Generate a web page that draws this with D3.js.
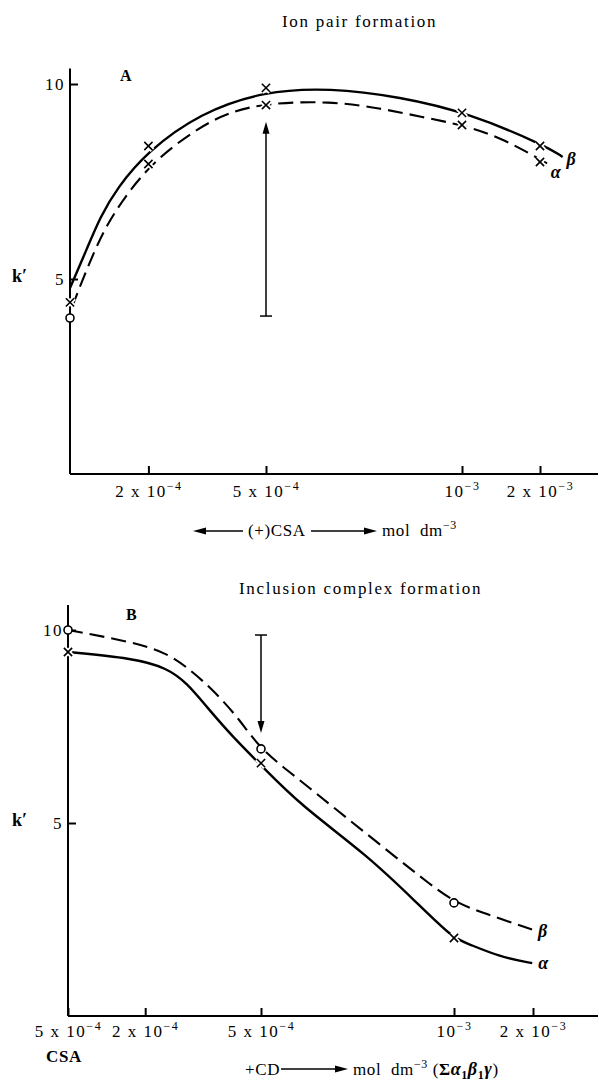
<!DOCTYPE html>
<meta charset="utf-8">
<title>k' against CSA and CD concentration</title>
<style>
  html, body { margin: 0; padding: 0; background: #fff; }
  svg { display: block; font-family: 'Liberation Serif', 'Times New Roman', serif; }
  text { fill: #000; }
  .axis { font-family: 'Liberation Serif', 'Times New Roman', serif; }
  .axis path.domain { display: none; }
  .axis line, .axis-line { stroke: #000; stroke-width: 2px; }
  .axis text { font-size: 17px; letter-spacing: 1.5px; }
  .curve { fill: none; stroke: #000; stroke-width: 2.4px; }
  .curve.dashed { stroke-width: 2.1px; stroke-dasharray: 15 7; }
  .mark { fill: none; stroke: #000; stroke-width: 1.6px; }
  .mark.o { fill: #fff; }
  .halo { fill: #fff; stroke: #fff; stroke-width: 5px; }
  .pointer { stroke: #000; stroke-width: 1.5px; }
  .title { font-size: 17px; letter-spacing: 1.7px; }
  .panel { font-size: 16px; font-weight: bold; }
  .kp { font-size: 18px; font-weight: bold; }
  .greek { font-size: 18px; font-weight: bold; font-style: italic; }
  .xlabel { font-size: 17px; letter-spacing: 0.6px; white-space: pre; }
</style>
<svg width="599" height="1081"></svg>
<script src="https://cdn.jsdelivr.net/npm/d3@7"></script>
<script>
  /* global d3 */
  'use strict'

  // ---- data (x in mol dm-3, y = k') ----
  // A: ion pair formation
  const ticksA = [2e-4, 5e-4, 1e-3, 2e-3]
  const tickLabelsA = [['2 x 10', '−4'], ['5 x 10', '−4'], ['10', '−3'], ['2 x 10', '−3']]
  const curveA_beta = [[0, 4.77], [0.43e-4, 5.77], [0.77e-4, 6.59], [1.2e-4, 7.33],
    [1.96e-4, 8.26], [3.32e-4, 9.26], [4.95e-4, 9.82], [6.63e-4, 9.9], [8.42e-4, 9.67],
    [1.08e-3, 9.26], [2.08e-3, 8.41], [2.29e-3, 8.13]]
  const curveA_alpha = [[0.05e-4, 4.28], [0.64e-4, 5.79], [1.1e-4, 6.69], [2.02e-4, 7.95],
    [3.32e-4, 8.92], [4.16e-4, 9.31], [5.05e-4, 9.51], [6.63e-4, 9.56], [7.91e-4, 9.38],
    [9.0e-4, 9.15], [1.0e-3, 8.95], [1.49e-3, 8.64], [2.06e-3, 8.0], [2.15e-3, 7.9]]
  const marksA_beta = [[0, 4.4, 'x'], [2e-4, 8.41, 'x'], [5e-4, 9.9, 'x'], [1e-3, 9.26, 'x'], [2e-3, 8.41, 'x']]
  const marksA_alpha = [[0, 4.0, 'o'], [2e-4, 7.95, 'x'], [5e-4, 9.46, 'x'], [1e-3, 8.95, 'x'], [2e-3, 8.0, 'x']]
  const pointerA = { x: 5e-4, from: 4.05, to: 9.03 }

  // B: inclusion complex formation
  const ticksB = [0, 2e-4, 5e-4, 1e-3, 2e-3]
  const tickLabelsB = [['5 x 10', '−4'], ['2 x 10', '−4'], ['5 x 10', '−4'], ['10', '−3'], ['2 x 10', '−3']]
  const curveB_alpha = [[0, 9.43], [1.68e-4, 9.27], [2.56e-4, 9.02], [3.08e-4, 8.63],
    [3.6e-4, 8.0], [4.27e-4, 7.23], [4.95e-4, 6.55], [6.01e-4, 5.47], [7.75e-4, 4.17],
    [9.04e-4, 2.93], [9.97e-4, 2.02], [1.16e-3, 1.89], [1.58e-3, 1.53], [1.99e-3, 1.37]]
  const curveB_beta = [[0, 10.0], [1.68e-4, 9.69], [2.56e-4, 9.4], [3.08e-4, 9.04],
    [3.76e-4, 8.45], [4.46e-4, 7.67], [4.97e-4, 6.92], [6.01e-4, 6.11], [6.87e-4, 5.41],
    [8.16e-4, 4.38], [9.46e-4, 3.34], [1.03e-3, 2.93], [1.37e-3, 2.67], [2.0e-3, 2.23]]
  const marksB_alpha = [[0, 9.43, 'x'], [5e-4, 6.55, 'x'], [1e-3, 2.02, 'x']]
  const marksB_beta = [[0, 10.0, 'o'], [5e-4, 6.92, 'o'], [1e-3, 2.93, 'o']]
  const pointerB = { x: 5e-4, from: 9.87, to: 7.33 }

  const yTicks = [5, 10]

  const svg = d3.select('svg')
  // hand-drawn style curves: smooth B-spline through the read points
  const line = (x, y) => d3.line().x(d => x(d[0])).y(d => y(d[1])).curve(d3.curveBasis)
  const cross = d3.symbol().type(d3.symbolTimes).size(46)

  function superscript(sel, labels) {
    sel.selectAll('.tick text').each(function (d, i) {
      const t = d3.select(this).text(null)
      t.append('tspan').text(labels[i][0])
      t.append('tspan').attr('dy', -7).style('font-size', '12px').text(labels[i][1])
    })
  }

  function drawPanel(p) {
    const g = svg.append('g')
    // axes: ticks point inward, long plain axis lines
    g.append('line').attr('class', 'axis-line')
      .attr('x1', p.x(0)).attr('x2', p.xEnd).attr('y1', p.y(0)).attr('y2', p.y(0))
    g.append('line').attr('class', 'axis-line')
      .attr('x1', p.x(0)).attr('x2', p.x(0)).attr('y1', p.y(0)).attr('y2', p.y(p.yTop))
    g.append('g').attr('class', 'axis')
      .attr('transform', `translate(0,${p.y(0)})`)
      .call(d3.axisBottom(p.x).tickValues(p.ticks).tickSize(-8).tickPadding(p.xPad))
      .call(superscript, p.tickLabels)
    g.append('g').attr('class', 'axis')
      .attr('transform', `translate(${p.x(0)},0)`)
      .call(d3.axisLeft(p.y).tickValues(yTicks).tickSize(-8).tickPadding(5).tickFormat(d3.format('d')))
    g.selectAll('.axis').attr('font-family', null)

    // curves
    p.curves.forEach(c => {
      g.append('path').datum(c.data)
        .attr('class', c.dashed ? 'curve dashed' : 'curve')
        .attr('d', line(p.x, p.y))
    })

    // pointer arrow
    const ax = p.x(p.pointer.x), y0 = p.y(p.pointer.from), y1 = p.y(p.pointer.to)
    const dir = y1 < y0 ? 1 : -1
    g.append('line').attr('class', 'pointer')
      .attr('x1', ax).attr('x2', ax).attr('y1', y0).attr('y2', y1 + dir * 8)
    g.append('line').attr('class', 'pointer')
      .attr('x1', ax - 6).attr('x2', ax + 6).attr('y1', y0).attr('y2', y0)
    g.append('path')
      .attr('d', `M${ax},${y1}L${ax - 3.5},${y1 + dir * 12}L${ax + 3.5},${y1 + dir * 12}Z`)

    // markers
    const marks = p.marks.flat()
    g.selectAll('.halo').data(marks.filter(d => d[2] === 'x')).join('path')
      .attr('class', 'halo')
      .attr('transform', d => `translate(${p.x(d[0])},${p.y(d[1])})`)
      .attr('d', cross)
    g.selectAll('.mark.x').data(marks.filter(d => d[2] === 'x')).join('path')
      .attr('class', 'mark x')
      .attr('transform', d => `translate(${p.x(d[0])},${p.y(d[1])})`)
      .attr('d', cross)
    g.selectAll('.mark.o').data(marks.filter(d => d[2] === 'o')).join('circle')
      .attr('class', 'mark o')
      .attr('cx', d => p.x(d[0])).attr('cy', d => p.y(d[1])).attr('r', 4)

    // labels
    p.curves.forEach(c => {
      const last = c.data[c.data.length - 1]
      g.append('text').attr('class', 'greek')
        .attr('x', p.x(last[0]) + c.dx).attr('y', p.y(last[1]) + c.dy)
        .text(c.name)
    })
    g.append('text').attr('class', 'title')
      .attr('x', p.titleX).attr('y', p.titleY).text(p.title)
    g.append('text').attr('class', 'panel')
      .attr('x', p.letterX).attr('y', p.letterY).text(p.letter)
    g.append('text').attr('class', 'kp')
      .attr('x', 12).attr('y', p.y(5) + 3).text('k′')
    return g
  }

  function hArrow(g, x1, x2, y) {
    const dir = x2 > x1 ? 1 : -1
    g.append('line').attr('class', 'pointer')
      .attr('x1', x1).attr('x2', x2 - dir * 10).attr('y1', y).attr('y2', y)
    g.append('path')
      .attr('d', `M${x2},${y}L${x2 - dir * 13},${y - 3.5}L${x2 - dir * 13},${y + 3.5}Z`)
  }

  // ---- panel A ----
  const xA = d3.scaleLinear().domain([0, 1e-3, 2e-3]).range([70, 462, 540])
  const yA = d3.scaleLinear().domain([0, 10]).range([474, 84])
  const gA = drawPanel({
    x: xA, y: yA, xEnd: 598, yTop: 10.4, xPad: 11,
    ticks: ticksA, tickLabels: tickLabelsA, pointer: pointerA,
    curves: [
      { data: curveA_beta, dashed: false, name: 'β', dx: 4, dy: 8 },
      { data: curveA_alpha, dashed: true, name: 'α', dx: -1, dy: 12 },
    ],
    marks: [marksA_beta, marksA_alpha],
    title: 'Ion pair formation', titleX: 282, titleY: 27,
    letter: 'A', letterX: 120, letterY: 81,
  })
  hArrow(gA, 243, 193, 531)
  gA.append('text').attr('class', 'xlabel').attr('x', 248).attr('y', 536).text('(+)CSA')
  hArrow(gA, 311, 377, 531)
  const lA = gA.append('text').attr('class', 'xlabel').attr('x', 382).attr('y', 536)
  lA.append('tspan').text('mol  dm')
  lA.append('tspan').attr('dy', -7).style('font-size', '12px').text('−3')

  // ---- panel B ----
  const xB = d3.scaleLinear().domain([0, 1e-3, 2e-3]).range([68, 454, 533])
  const yB = d3.scaleLinear().domain([0, 10]).range([1016, 630])
  const gB = drawPanel({
    x: xB, y: yB, xEnd: 598, yTop: 10.65, xPad: 9,
    ticks: ticksB, tickLabels: tickLabelsB, pointer: pointerB,
    curves: [
      { data: curveB_alpha, dashed: false, name: 'α', dx: 6, dy: 6 },
      { data: curveB_beta, dashed: true, name: 'β', dx: 5, dy: 7 },
    ],
    marks: [marksB_alpha, marksB_beta],
    title: 'Inclusion complex formation', titleX: 239, titleY: 594,
    letter: 'B', letterX: 126, letterY: 620,
  })
  gB.append('text').attr('class', 'xlabel').style('font-weight', 'bold')
    .attr('x', 46).attr('y', 1062).text('CSA')
  gB.append('text').attr('class', 'xlabel').attr('x', 245).attr('y', 1075).text('+CD')
  hArrow(gB, 281, 348, 1069)
  const lB = gB.append('text').attr('class', 'xlabel').attr('x', 353).attr('y', 1075)
  lB.append('tspan').text('mol  dm')
  lB.append('tspan').attr('dy', -7).style('font-size', '12px').text('−3')
  lB.append('tspan').attr('dy', 7).text(' (')
  lB.append('tspan').style('font-weight', 'bold').text('Σ')
  lB.append('tspan').attr('class', 'greek').text('α')
  lB.append('tspan').attr('dy', 4).style('font-size', '12px').style('font-weight', 'bold').text('1')
  lB.append('tspan').attr('dy', -4).attr('class', 'greek').text('β')
  lB.append('tspan').attr('dy', 4).style('font-size', '12px').style('font-weight', 'bold').text('1')
  lB.append('tspan').attr('dy', -4).attr('class', 'greek').text('γ')
  lB.append('tspan').text(')')
</script>
